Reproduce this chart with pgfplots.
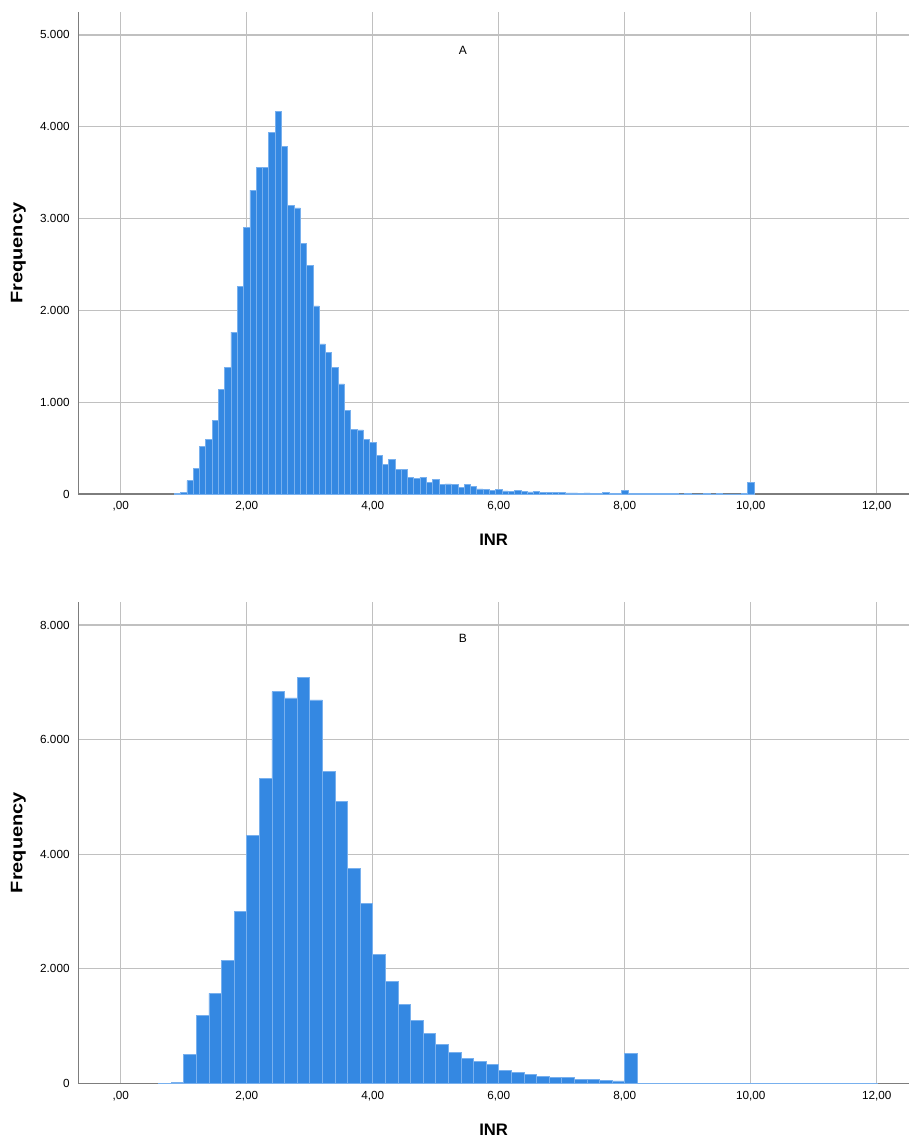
\documentclass[border=0pt]{standalone}
\usepackage{pgfplots}
\pgfplotsset{compat=1.18}
\usepackage{fontspec}
\setmainfont{Liberation Sans}

\definecolor{barfill}{RGB}{52,136,226}
\definecolor{baredge}{RGB}{120,176,238}
\definecolor{gridc}{RGB}{192,192,192}
\definecolor{axisc}{RGB}{125,125,125}

% INR histogram A: bins of 0.1, centres
\pgfplotstableread{
x y
0.9 3
1.0 20
1.1 145
1.2 280
1.3 516
1.4 596
1.5 800
1.6 1142
1.7 1382
1.8 1764
1.9 2262
2.0 2905
2.1 3309
2.2 3560
2.3 3560
2.4 3935
2.5 4171
2.6 3782
2.7 3142
2.8 3116
2.9 2727
3.0 2491
3.1 2049
3.2 1636
3.3 1545
3.4 1382
3.5 1200
3.6 913
3.7 705
3.8 698
3.9 593
4.0 564
4.1 422
4.2 320
4.3 375
4.4 265
4.5 265
4.6 178
4.7 167
4.8 182
4.9 127
5.0 160
5.1 102
5.2 109
5.3 102
5.4 73
5.5 102
5.6 80
5.7 55
5.8 47
5.9 36
6.0 51
6.1 35
6.2 28
6.3 38
6.4 30
6.5 22
6.6 25
6.7 18
6.8 16
6.9 15
7.0 14
7.1 13
7.2 12
7.3 10
7.4 12
7.5 9
7.6 8
7.7 14
7.8 8
7.9 7
8.0 40
8.1 5
8.2 4
8.3 4
8.4 3
8.5 4
8.6 3
8.7 3
8.8 3
8.9 2
9.0 4
9.1 2
9.2 2
9.3 3
9.4 2
9.5 3
9.6 2
9.7 2
9.8 2
9.9 3
10.0 125
}\dataA

% INR histogram B: bins of 0.2, centres
\pgfplotstableread{
x y
0.7 4
0.9 15
1.1 507
1.3 1190
1.5 1574
1.7 2146
1.9 3003
2.1 4332
2.3 5324
2.5 6840
2.7 6729
2.9 7085
3.1 6694
3.3 5452
3.5 4921
3.7 3749
3.9 3137
4.1 2257
4.3 1778
4.5 1382
4.7 1096
4.9 875
5.1 676
5.3 542
5.5 443
5.7 379
5.9 327
6.1 227
6.3 198
6.5 165
6.7 128
6.9 105
7.1 105
7.3 70
7.5 70
7.7 52
7.9 47
8.1 525
8.3 8
8.5 6
8.7 5
8.9 6
9.1 4
9.3 4
9.5 3
9.7 3
9.9 4
10.1 3
10.3 3
10.5 2
10.7 3
10.9 2
11.1 2
11.3 2
11.5 2
11.7 2
11.9 2
}\dataB

\pgfplotsset{spsshist/.style={
  scale only axis, width=623pt, height=361.3pt,
  xmin=-0.673, xmax=12.51, ymin=0,
  axis x line*=bottom, axis y line*=left,
  axis line style={axisc, line width=1.1pt, -},
  xmajorgrids, ymajorgrids,
  major grid style={gridc, line width=0.9pt},
  major tick length=0pt,
  xtick={0,2,...,12},
  xticklabels={{,00},{2,00},{4,00},{6,00},{8,00},{10,00},{12,00}},
  tick label style={font=\fontsize{8.8pt}{10pt}\selectfont},
  yticklabel style={xshift=-3pt},
  xticklabel style={yshift=-2pt},
  xlabel={INR},
  ylabel={\scalebox{1.2}[1]{Frequency}},
  xlabel style={font=\bfseries\fontsize{12.5pt}{14pt}\selectfont,
    at={(axis description cs:0.5,-0.0955)}, anchor=center},
  ylabel style={font=\bfseries\fontsize{12.5pt}{14pt}\selectfont,
    at={(axis description cs:-0.0722,0.5)}, anchor=center},
}}

\begin{document}
\begin{tikzpicture}
\begin{axis}[spsshist,
  ymax=5247,
  ytick={0,1000,...,5000},
  yticklabels={0,{1.000},{2.000},{3.000},{4.000},{5.000}},
]
\addplot[ybar, bar width=0.1, fill=barfill, draw=baredge, line width=0.4pt] table {\dataA};
\node[font=\fontsize{9pt}{10pt}\selectfont] at (axis cs:5.43,4837) {A};
\end{axis}

\begin{axis}[spsshist,
  at={(0pt,-80.8pt)}, anchor=north west,
  ymax=8407,
  ytick={0,2000,...,8000},
  yticklabels={0,{2.000},{4.000},{6.000},{8.000}},
]
\addplot[ybar, bar width=0.2, fill=barfill, draw=baredge, line width=0.4pt] table {\dataB};
\node[font=\fontsize{9pt}{10pt}\selectfont] at (axis cs:5.43,7771) {B};
\end{axis}

\pgfresetboundingbox
\path (-58.7pt,-483pt) rectangle (623pt,370.5pt);
\end{tikzpicture}
\end{document}
